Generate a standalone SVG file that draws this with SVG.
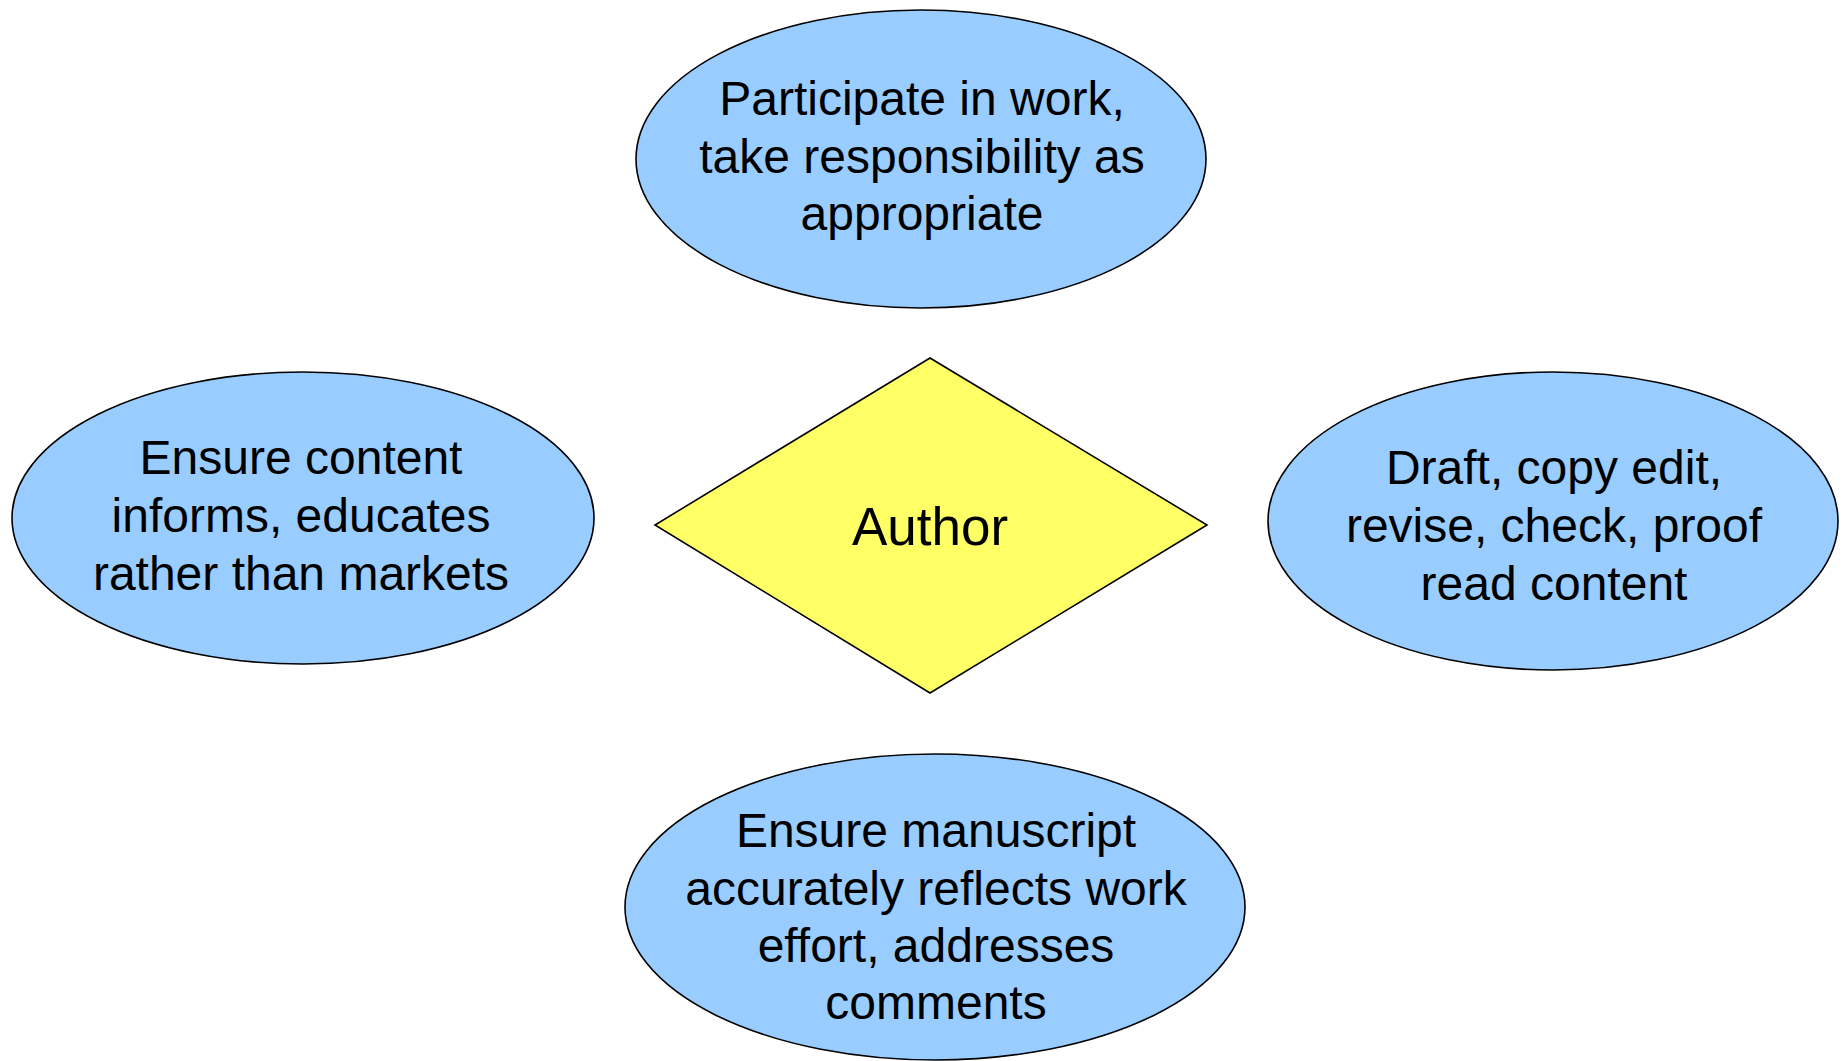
<svg xmlns="http://www.w3.org/2000/svg" width="1846" height="1061" viewBox="0 0 1846 1061">
<style>
.oval{fill:#99CCFF;stroke:#000;stroke-width:1.6}
.dia{fill:#FFFF66;stroke:#000;stroke-width:1.6}
text{font-family:"Liberation Sans",Arial,sans-serif;font-size:48px;fill:#000;text-anchor:middle}
.big{font-size:53px}
</style>
<rect x="0" y="0" width="1846" height="1061" fill="#fff"/>
<g id="connectors"></g>
<g id="node-top">
<ellipse class="oval" cx="921" cy="159" rx="285" ry="149"/>
<text x="922" y="115">Participate in work,</text>
<text x="922" y="173">take responsibility as</text>
<text x="922" y="230">appropriate</text>
</g>
<g id="node-left">
<ellipse class="oval" cx="303" cy="518" rx="291" ry="146"/>
<text x="301" y="474">Ensure content</text>
<text x="301" y="532">informs, educates</text>
<text x="301" y="590">rather than markets</text>
</g>
<g id="node-author">
<polygon class="dia" points="930,358 1207,525 930,693 655,525"/>
<text class="big" x="930" y="545">Author</text>
</g>
<g id="node-right">
<ellipse class="oval" cx="1553" cy="521" rx="285" ry="149"/>
<text x="1554" y="484">Draft, copy edit,</text>
<text x="1554" y="542">revise, check, proof</text>
<text x="1554" y="600">read content</text>
</g>
<g id="node-bottom">
<ellipse class="oval" cx="935" cy="907" rx="310" ry="153"/>
<text x="936" y="847">Ensure manuscript</text>
<text x="936" y="905">accurately reflects work</text>
<text x="936" y="962">effort, addresses</text>
<text x="936" y="1019">comments</text>
</g>
</svg>
